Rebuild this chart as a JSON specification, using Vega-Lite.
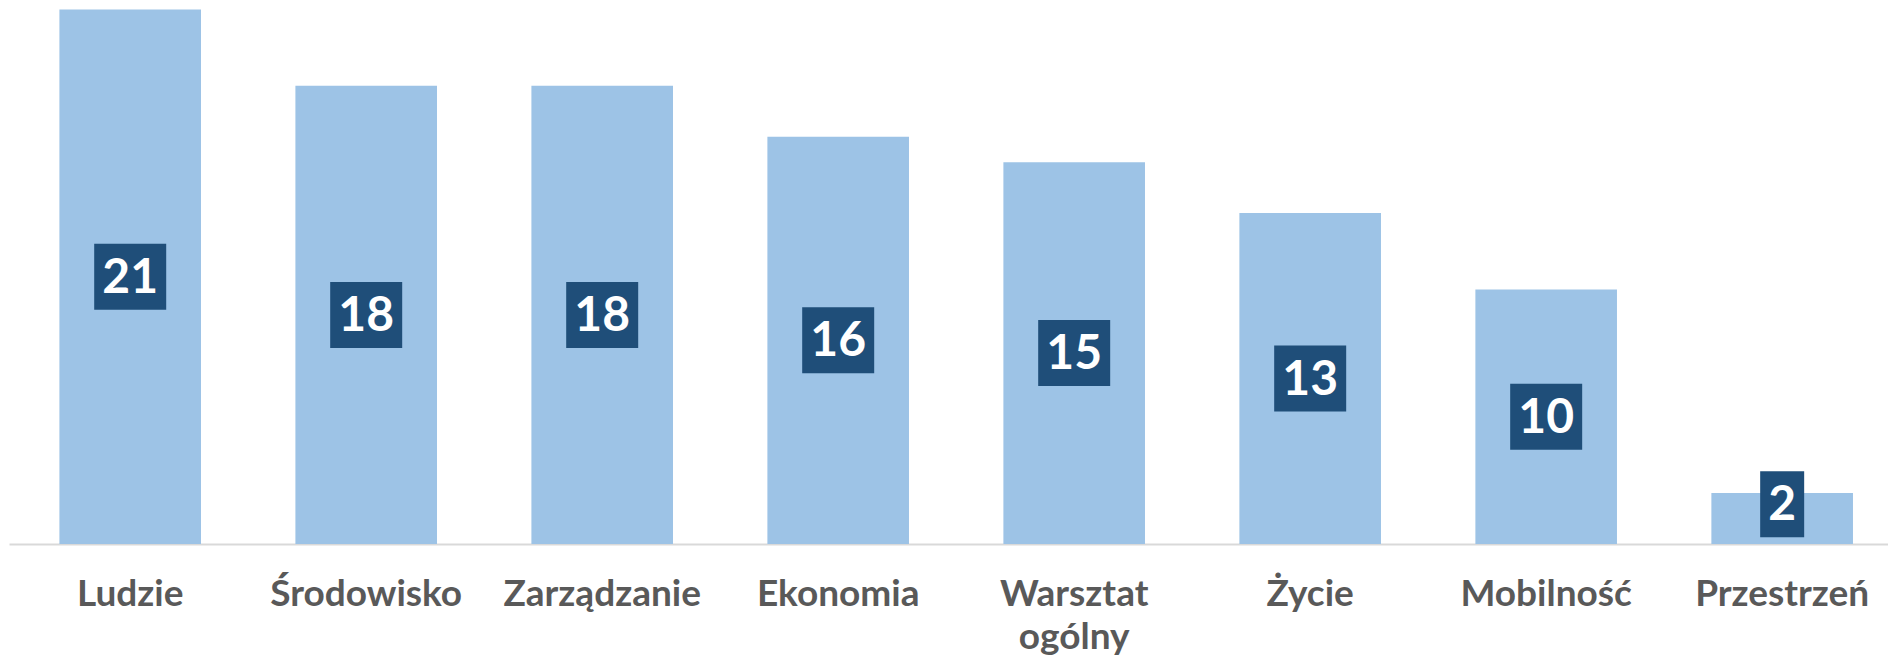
{
  "$schema": "https://vega.github.io/schema/vega-lite/v6.json",
  "width": 1879,
  "height": 544,
  "padding": {"left": 9, "top": 0, "right": 0, "bottom": 116},
  "autosize": {"type": "none"},
  "background": "white",
  "config": {"view": {"stroke": null}},
  "data": {
    "values": [
      {"label": "Ludzie", "value": 21},
      {"label": "Środowisko", "value": 18},
      {"label": "Zarządzanie", "value": 18},
      {"label": "Ekonomia", "value": 16},
      {"label": "Warsztat ogólny", "value": 15},
      {"label": "Życie", "value": 13},
      {"label": "Mobilność", "value": 10},
      {"label": "Przestrzeń", "value": 2}
    ]
  },
  "transform": [
    {"calculate": "max(datum.value / 2, 1.56)", "as": "mid"}
  ],
  "encoding": {
    "x": {
      "field": "label",
      "type": "nominal",
      "sort": null,
      "scale": {"paddingInner": 0.4, "paddingOuter": 0.181, "align": 0.59},
      "axis": {
        "title": null,
        "labelAngle": 0,
        "ticks": false,
        "tickSize": 0,
        "labelPadding": 32,
        "labelFont": "Lato",
        "labelFontWeight": "bold",
        "labelFontSize": 37,
        "labelColor": "#595959",
        "labelLineHeight": 43,
        "labelBaseline": "top",
        "labelOverlap": false,
        "labelBound": false,
        "labelLimit": 0,
        "domainColor": "#D9D9D9",
        "domainWidth": 2,
        "labelExpr": "datum.label == 'Warsztat ogólny' ? ['Warsztat', 'ogólny'] : datum.label"
      }
    }
  },
  "layer": [
    {
      "mark": {"type": "bar", "color": "#9DC3E6"},
      "encoding": {
        "y": {"field": "value", "type": "quantitative", "scale": {"domain": [0, 21.37], "nice": false, "zero": true}, "axis": null}
      }
    },
    {
      "transform": [{"filter": "datum.value >= 10"}],
      "mark": {"type": "point", "filled": true, "color": "#1F4E79", "opacity": 1, "shape": "M-1,-0.9167H1V0.9167H-1Z", "size": 5184, "strokeWidth": 0},
      "encoding": {
        "y": {"field": "mid", "type": "quantitative", "scale": {"domain": [0, 21.37], "nice": false}, "axis": null}
      }
    },
    {
      "transform": [{"filter": "datum.value < 10"}],
      "mark": {"type": "point", "filled": true, "color": "#1F4E79", "opacity": 1, "shape": "M-0.6667,-1H0.6667V1H-0.6667Z", "size": 4356, "strokeWidth": 0},
      "encoding": {
        "y": {"field": "mid", "type": "quantitative", "scale": {"domain": [0, 21.37], "nice": false}, "axis": null}
      }
    },
    {
      "mark": {"type": "text", "color": "white", "font": "Lato", "fontWeight": "bold", "fontSize": 48, "baseline": "middle", "align": "center", "dy": 2},
      "encoding": {
        "y": {"field": "mid", "type": "quantitative", "scale": {"domain": [0, 21.37], "nice": false}, "axis": null},
        "text": {"field": "value", "type": "quantitative"}
      }
    }
  ]
}
